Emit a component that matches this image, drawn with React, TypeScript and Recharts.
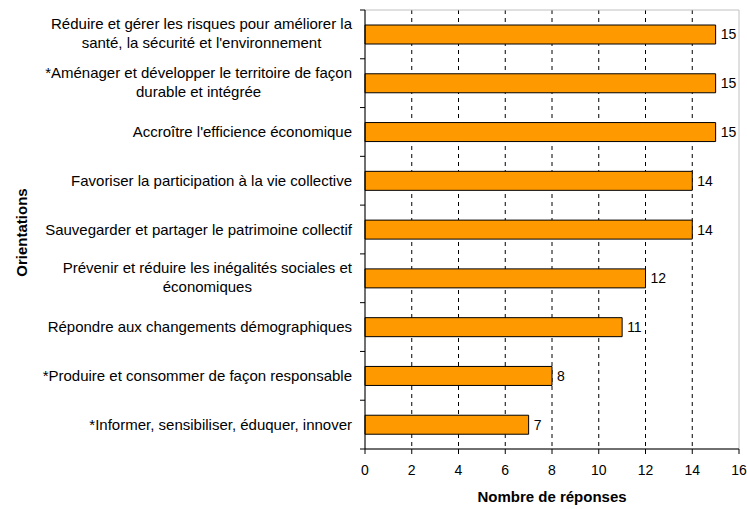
import React from "react";
import {
  BarChart,
  Bar,
  XAxis,
  YAxis,
  CartesianGrid,
  LabelList,
  Label,
  ReferenceArea,
} from "recharts";

const categories = [
  "Réduire et gérer les risques pour améliorer la\nsanté, la sécurité et l'environnement",
  "*Aménager et développer le territoire de façon\ndurable et intégrée",
  "Accroître l'efficience économique",
  "Favoriser la participation à la vie collective",
  "Sauvegarder et partager le patrimoine collectif",
  "Prévenir et réduire les inégalités sociales et\néconomiques",
  "Répondre aux changements démographiques",
  "*Produire et consommer de façon responsable",
  "*Informer, sensibiliser, éduquer, innover",
];
const responses = [15, 15, 15, 14, 14, 12, 11, 8, 7];
const xTicks = [0, 2, 4, 6, 8, 10, 12, 14, 16];
const gridTicks = [2, 4, 6, 8, 10, 12, 14];
const xTitle = "Nombre de réponses";
const yTitle = "Orientations";

const data = categories.map((name, i) => ({ name, value: responses[i] }));

const FONT = "'Liberation Sans', Arial, sans-serif";
const TICK_FONT_SIZE = 15;

let ctx: CanvasRenderingContext2D | null = null;
function measure(text: string): number {
  if (!ctx) {
    const c = document.createElement("canvas");
    ctx = c.getContext("2d");
  }
  if (!ctx) return text.length * 7.2;
  ctx.font = `${TICK_FONT_SIZE}px 'Liberation Sans'`;
  return ctx.measureText(text).width;
}

const CategoryTick = (props: any) => {
  const { x, y, payload, index, height } = props;
  const lines: string[] = String(payload.value).split("\n");
  const band =
    typeof height === "number" && height > 0
      ? height / categories.length
      : payload.offset
      ? payload.offset * 2
      : 48.8;
  const maxW = Math.max(...lines.map((l) => measure(l)));
  const cx = x - maxW / 2;
  const lineH = 19;
  const startY = lines.length === 1 ? y + 5 : y - 5;
  const axisX = x + 13;
  return (
    <g>
      <line x1={axisX - 5} x2={axisX} y1={y - band / 2} y2={y - band / 2} stroke="#000" />
      {index === categories.length - 1 && (
        <line x1={axisX - 5} x2={axisX} y1={y + band / 2} y2={y + band / 2} stroke="#000" />
      )}
      {lines.map((l, i) => (
        <text
          key={i}
          x={cx}
          y={startY + i * lineH}
          textAnchor="middle"
          fill="#000"
          fontSize={TICK_FONT_SIZE}
          fontFamily={FONT}
        >
          {l}
        </text>
      ))}
    </g>
  );
};

export default function App() {
  return (
    <div style={{ position: "absolute", left: 0, top: 0, background: "#fff" }}>
      <BarChart
        width={747}
        height={509}
        data={data}
        layout="vertical"
        margin={{ top: 10, right: 8, bottom: 0, left: 0 }}
        barSize={19}
        style={{ fontFamily: FONT }}
      >
        <CartesianGrid
          horizontal={false}
          vertical={true}
          verticalValues={gridTicks}
          stroke="#000"
          strokeDasharray="4 4"
        />
        <ReferenceArea x1={0} x2={16} fill="none" stroke="#c0c0c0" ifOverflow="visible" />
        <XAxis
          type="number"
          domain={[0, 16]}
          ticks={xTicks}
          interval={0}
          height={60}
          tickSize={5}
          tickMargin={11}
          stroke="#000"
          axisLine={{ stroke: "#000" }}
          tickLine={{ stroke: "#000" }}
          tick={{ fill: "#000", fontSize: 14, fontFamily: FONT }}
        >
          <Label
            content={(p: any) => {
              const vb = p.viewBox || { x: 365, y: 449, width: 374, height: 60 };
              return (
                <text
                  x={vb.x + vb.width / 2}
                  y={vb.y + 53}
                  textAnchor="middle"
                  fontWeight="bold"
                  fontSize={15}
                  fill="#000"
                  fontFamily={FONT}
                >
                  {xTitle}
                </text>
              );
            }}
          />
        </XAxis>
        <YAxis
          type="category"
          dataKey="name"
          width={365}
          interval={0}
          tickSize={5}
          tickMargin={8}
          tickLine={false}
          axisLine={{ stroke: "#000" }}
          tick={<CategoryTick />}
        >
          <Label
            content={(p: any) => {
              const vb = p.viewBox || { x: 0, y: 10, width: 365, height: 439 };
              const tx = vb.x + 27;
              const ty = vb.y + vb.height / 2 + 3;
              return (
                <text
                  x={tx}
                  y={ty}
                  transform={`rotate(-90, ${tx}, ${ty})`}
                  textAnchor="middle"
                  fontWeight="bold"
                  fontSize={15}
                  fill="#000"
                  fontFamily={FONT}
                >
                  {yTitle}
                </text>
              );
            }}
          />
        </YAxis>
        <Bar
          dataKey="value"
          fill="#FF9900"
          stroke="#000"
          strokeWidth={1}
          isAnimationActive={false}
        >
          <LabelList
            dataKey="value"
            position="right"
            offset={5}
            fill="#000"
            fontSize={14}
            fontFamily={FONT}
          />
        </Bar>
      </BarChart>
    </div>
  );
}
